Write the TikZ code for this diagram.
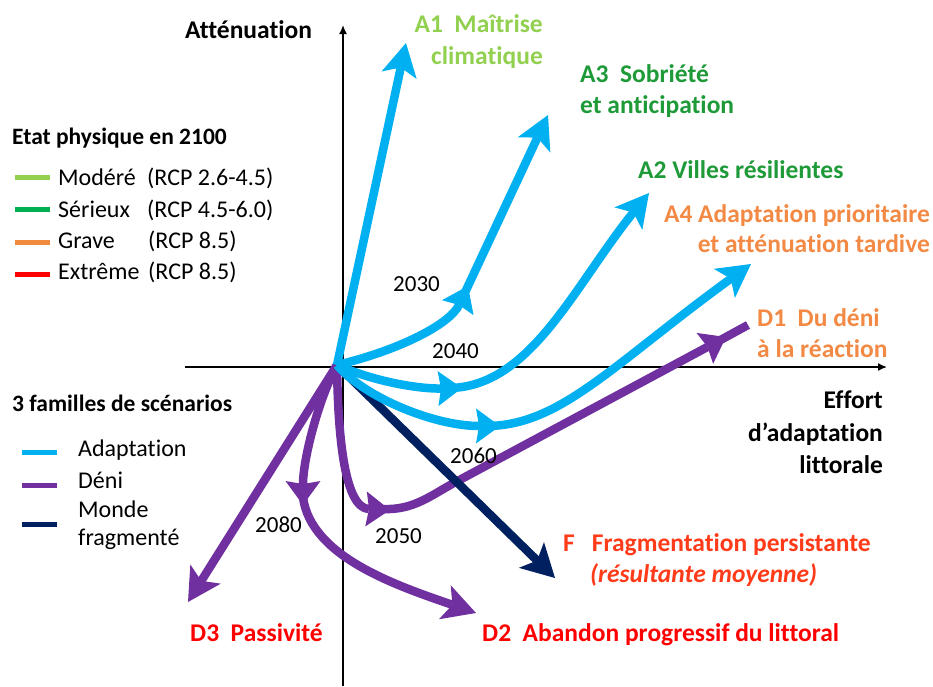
\documentclass[tikz,border=0pt]{standalone}
\usepackage{fontspec}
\setmainfont{Carlito}[Ligatures=NoCommon]
\usetikzlibrary{arrows.meta,calc}
\definecolor{cblue}{HTML}{00B0F0}
\definecolor{cpurple}{HTML}{7030A0}
\definecolor{cnavy}{HTML}{002060}
\definecolor{clgreen}{HTML}{92D050}
\definecolor{cgreen}{HTML}{00B050}
\definecolor{ctgreen}{HTML}{1E9A38}
\definecolor{corange}{HTML}{F08A3C}
\definecolor{ctorange}{HTML}{F28A45}
\definecolor{cred}{HTML}{FF0000}
\definecolor{cfred}{HTML}{FF3B1A}
\begin{document}
\begin{tikzpicture}[x=1pt,y=-1pt,
  big/.style={font=\fontsize{25.5}{30}\selectfont\bfseries, inner sep=0pt},
  ttl/.style={font=\fontsize{23.5}{28}\selectfont\bfseries, inner sep=0pt},
  leg/.style={font=\fontsize{24}{28}\selectfont, inner sep=0pt},
  yr/.style={font=\fontsize{23}{27}\selectfont, inner sep=0pt},
  axis/.style={line width=1.6pt, black, -{Latex[length=9pt,width=8pt]}},
  fl/.style={line width=8.5pt},
  cont/.style={shorten <=-14pt},
  ahd/.style={-{Stealth[length=33pt 0 0,width=36pt 0 0,inset=8pt 0,line width=0pt 0 0]}},
  ahm/.style={-{Stealth[length=24pt 0 0,width=35pt 0 0,inset=3pt 0,line width=0pt 0 0]}},
  legline/.style={line width=5pt}
]
\useasboundingbox (0,0) rectangle (933,686);

% axes
\coordinate (xl) at (185,367);
\coordinate (xr) at (887,367);
\coordinate (yb) at (343,686);
\coordinate (yt) at (343,25);
\draw[axis] (xl) -- (xr);
\draw[axis] (yb) -- (yt);

% key points
\coordinate (O) at (337,365);
\coordinate (a1) at (406,43);
\coordinate (m30) at (468,286);
\coordinate (a3) at (548,115);
\coordinate (m40) at (462,388);
\coordinate (a2) at (649,193);
\coordinate (m60) at (500,426);
\coordinate (a4) at (751,264);
\coordinate (m50) at (390,510);
\coordinate (d1k) at (452,484);
\coordinate (d1m) at (726,337);
\coordinate (d1e) at (748,325);
\coordinate (m80) at (303,505);
\coordinate (d2) at (476,613);
\coordinate (d3) at (188,602);
\coordinate (fe) at (555,578);

% purple scenarios
\draw[fl, cpurple, ahd] (O) -- (d3);
\draw[fl, cpurple, ahm] (O) .. controls (318,400) and (303,460) .. (m80);
\draw[fl, cpurple, ahd, cont] (m80) .. controls (305,555) and (395,585) .. (d2);
\draw[fl, cpurple, ahm] (O) .. controls (338,440) and (345,508) .. (m50);
\draw[fl, cpurple, ahm, cont] (m50) .. controls (410,512) and (427,498) .. (d1k) -- (d1m);
\draw[fl, cpurple, cont] (d1m) -- (d1e);

% navy
\draw[fl, cnavy, ahd] (O) -- (fe);

% blue scenarios
\draw[fl, cblue, ahd] (O) -- (a1);
\draw[fl, cblue, ahm] (O) .. controls (400,350) and (450,324) .. (m30);
\draw[fl, cblue, ahd, cont] (m30) -- (a3);
\draw[fl, cblue, ahm] (O) .. controls (375,382) and (420,389) .. (m40);
\draw[fl, cblue, ahd, cont] (m40) .. controls (530,388) and (574,286) .. (a2);
\draw[fl, cblue, ahm] (O) .. controls (365,398) and (435,426) .. (m60);
\draw[fl, cblue, ahd, cont] (m60) .. controls (560,426) and (612,365) .. (a4);

% axis titles
\node[big, anchor=base west] (tatt) at (185,38) {Atténuation};
\node[big, anchor=base east] (teff1) at (883,408) {Effort};
\node[big, anchor=base east] (teff2) at (883,441) {d’adaptation};
\node[big, anchor=base east] (teff3) at (883,473) {littorale};

% scenario labels
\node[big, clgreen, anchor=base east] (la1a) at (543,32) {A1~~Maîtrise};
\node[big, clgreen, anchor=base east] (la1b) at (543,64) {climatique};
\node[big, ctgreen, anchor=base west] (la3a) at (580,82) {A3~~Sobriété};
\node[big, ctgreen, anchor=base west] (la3b) at (580,113) {et anticipation};
\node[big, ctgreen, anchor=base west] (la2) at (638,178) {A2 Villes résilientes};
\node[big, ctorange, anchor=base east] (la4a) at (930,222) {A4 Adaptation prioritaire};
\node[big, ctorange, anchor=base east] (la4b) at (930,252) {et atténuation tardive};
\node[big, ctorange, anchor=base west] (ld1a) at (757,326) {D1~~Du déni};
\node[big, ctorange, anchor=base west] (ld1b) at (757,357) {à la réaction};
\node[big, cfred, anchor=base west] (lfa) at (563,551) {F\hspace{17pt}Fragmentation persistante};
\node[big, cfred, anchor=base west] (lfb) at (590,582) {\itshape (résultante moyenne)};
\node[big, cred, anchor=base west] (ld3) at (190,641) {D3~~Passivité};
\node[big, cred, anchor=base west] (ld2) at (482,641) {D2~~Abandon progressif du littoral};

% years
\node[yr, anchor=base west] (y30) at (393,291) {2030};
\node[yr, anchor=base west] (y40) at (432,358) {2040};
\node[yr, anchor=base west] (y60) at (450,463) {2060};
\node[yr, anchor=base west] (y80) at (255,532) {2080};
\node[yr, anchor=base west] (y50) at (375,543) {2050};

% legend 1
\node[ttl, anchor=base west] (lg1) at (12,144) {Etat physique en 2100};
\coordinate (g1a) at (15,177); \coordinate (g1b) at (50,177);
\coordinate (g2a) at (15,209); \coordinate (g2b) at (50,209);
\coordinate (g3a) at (15,242); \coordinate (g3b) at (50,242);
\coordinate (g4a) at (15,274); \coordinate (g4b) at (50,274);
\draw[legline, clgreen] (g1a) -- (g1b);
\draw[legline, cgreen] (g2a) -- (g2b);
\draw[legline, corange] (g3a) -- (g3b);
\draw[legline, cred] (g4a) -- (g4b);
\node[leg, anchor=base west] (n1) at (58,185) {Modéré};
\node[leg, anchor=base west] (r1) at (147,185) {(RCP 2.6-4.5)};
\node[leg, anchor=base west] (n2) at (58,217) {Sérieux};
\node[leg, anchor=base west] (r2) at (147,217) {(RCP 4.5-6.0)};
\node[leg, anchor=base west] (n3) at (58,248) {Grave};
\node[leg, anchor=base west] (r3) at (148,248) {(RCP 8.5)};
\node[leg, anchor=base west] (n4) at (58,279) {Extrême};
\node[leg, anchor=base west] (r4) at (148,279) {(RCP 8.5)};

% legend 2
\node[ttl, anchor=base west] (lg2) at (12,411) {3 familles de scénarios};
\coordinate (h1a) at (22,452); \coordinate (h1b) at (57,452);
\coordinate (h2a) at (22,485); \coordinate (h2b) at (57,485);
\coordinate (h3a) at (22,524); \coordinate (h3b) at (57,524);
\draw[legline, cblue] (h1a) -- (h1b);
\draw[legline, cpurple] (h2a) -- (h2b);
\draw[legline, cnavy] (h3a) -- (h3b);
\node[leg, anchor=base west] (s1) at (78,456) {Adaptation};
\node[leg, anchor=base west] (s2) at (78,488) {Déni};
\node[leg, anchor=base west] (s3a) at (78,517) {Monde};
\node[leg, anchor=base west] (s3b) at (78,545) {fragmenté};
\end{tikzpicture}
\end{document}
